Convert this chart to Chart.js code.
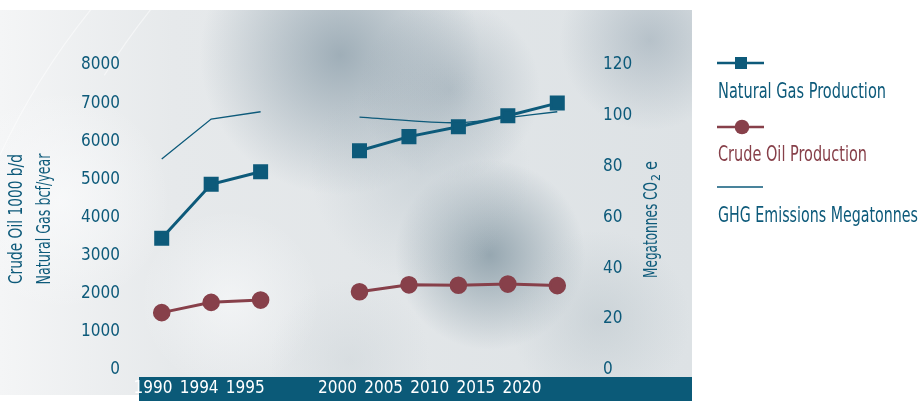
<!DOCTYPE html>
<html lang="en">
<head>
    <meta charset="UTF-8">
    <title>Gas, oil and GHG</title>
    <script src="https://cdn.jsdelivr.net/npm/chart.js@4.4.1/dist/chart.umd.min.js"></script>
    <style>
        body { margin: 0; background: #fff; }
        #wrap { width: 922px; height: 401px; position: relative; }
    </style>
</head>
<body>
    <div id="wrap">
        <canvas id="chart"></canvas>
    </div>

    <script>
        // data (blank slot between 1995 and 2000)
        const years = ['1990', '1994', '1995', '', '2000', '2005', '2010', '2015', '2020'];
        const gasProduction = [3450, 4870, 5200, null, 5750, 6120, 6380, 6670, 7000];
        const oilProduction = [1500, 1770, 1830, null, 2050, 2230, 2220, 2250, 2210];
        const ghgEmissions = [83, 98.7, 101.6, null, 99.5, 98.1, 97.3, 99.3, 101.6];
        const leftTicks = [0, 1000, 2000, 3000, 4000, 5000, 6000, 7000, 8000];
        const rightTicks = [0, 20, 40, 60, 80, 100, 120];

        const BLUE = '#0d5a7a';
        const RED = '#87404a';
        const FONT = '"DejaVu Sans Condensed", "Liberation Sans Narrow", sans-serif';

        // first stretch drawn straight, the later one smoothed like the original
        const ghgEarly = ghgEmissions.map((v, i) => (i < 3 ? v : null));
        const ghgLate = ghgEmissions.map((v, i) => (i > 3 ? v : null));

        const background = {
            id: 'background',
            beforeDraw(chart) {
                const ctx = chart.ctx;
                ctx.save();
                ctx.fillStyle = '#fff';
                ctx.fillRect(0, 0, chart.width, chart.height);
                // cloudy panel
                ctx.beginPath();
                ctx.rect(0, 10, 692, 385);
                ctx.clip();
                let g = ctx.createLinearGradient(0, 0, 692, 0);
                g.addColorStop(0, '#f4f5f6');
                g.addColorStop(0.25, '#e6e9eb');
                g.addColorStop(1, '#dde2e5');
                ctx.fillStyle = g;
                ctx.fillRect(0, 10, 692, 385);
                const blobs = [
                    [340, 55, 140, 'rgba(130,150,163,0.7)'],
                    [450, 90, 90, 'rgba(140,158,170,0.5)'],
                    [650, 40, 90, 'rgba(150,166,178,0.55)'],
                    [490, 255, 95, 'rgba(125,146,158,0.75)'],
                    [420, 170, 110, 'rgba(175,188,196,0.4)'],
                    [600, 320, 90, 'rgba(185,196,202,0.5)'],
                    [230, 300, 90, 'rgba(250,251,252,0.6)'],
                    [60, 200, 110, 'rgba(250,251,252,0.7)'],
                    [350, 360, 80, 'rgba(200,208,213,0.4)']
                ];
                blobs.forEach(([x, y, r, c]) => {
                    const rg = ctx.createRadialGradient(x, y, 0, x, y, r);
                    rg.addColorStop(0, c);
                    rg.addColorStop(1, c.replace(/[\d.]+\)$/, '0)'));
                    ctx.fillStyle = rg;
                    ctx.fillRect(x - r, y - r, 2 * r, 2 * r);
                });
                // faint globe arcs on the left
                ctx.strokeStyle = 'rgba(255,255,255,0.5)';
                ctx.lineWidth = 1.2;
                ctx.beginPath();
                ctx.arc(650, 460, 718, 3.50, 3.82);
                ctx.stroke();
                ctx.beginPath();
                ctx.arc(720, 460, 726, 3.70, 3.82);
                ctx.stroke();
                ctx.restore();
                // dark band for the year labels
                ctx.fillStyle = '#0b5a78';
                ctx.fillRect(139, 377, 553, 24);
            },
            afterDraw(chart) {
                const ctx = chart.ctx;
                ctx.save();
                // axis titles
                ctx.fillStyle = BLUE;
                ctx.textAlign = 'center';
                ctx.textBaseline = 'middle';
                ctx.font = '19px ' + FONT;
                ctx.translate(17, 219);
                ctx.rotate(-Math.PI / 2);
                ctx.fillText('Crude Oil 1000 b/d', 0, 0, 130);
                ctx.fillText('Natural Gas bcf/year', 0, 28, 131);
                ctx.restore();

                ctx.save();
                ctx.fillStyle = BLUE;
                ctx.textBaseline = 'middle';
                ctx.font = '19px ' + FONT;
                ctx.translate(652, 278);
                ctx.rotate(-Math.PI / 2);
                ctx.textAlign = 'left';
                const main = 'Megatonnes CO';
                ctx.fillText(main, 0, 0, 96);
                let w = Math.min(ctx.measureText(main).width, 96);
                ctx.font = '13px ' + FONT;
                ctx.fillText('2', w + 1, 5, 7);
                ctx.font = '19px ' + FONT;
                ctx.fillText('e', w + 12, 0, 9);
                ctx.restore();

                // legend
                ctx.save();
                ctx.lineCap = 'butt';
                ctx.strokeStyle = BLUE;
                ctx.lineWidth = 2.5;
                ctx.beginPath(); ctx.moveTo(717, 63); ctx.lineTo(764, 63); ctx.stroke();
                ctx.fillStyle = BLUE;
                ctx.fillRect(735, 57, 12, 12);
                ctx.strokeStyle = RED;
                ctx.beginPath(); ctx.moveTo(717, 127); ctx.lineTo(764, 127); ctx.stroke();
                ctx.fillStyle = RED;
                ctx.beginPath(); ctx.arc(742, 127, 7.3, 0, Math.PI * 2); ctx.fill();
                ctx.strokeStyle = BLUE;
                ctx.lineWidth = 1.3;
                ctx.beginPath(); ctx.moveTo(717, 187); ctx.lineTo(763, 187); ctx.stroke();

                ctx.font = '22px ' + FONT;
                ctx.textAlign = 'left';
                ctx.textBaseline = 'alphabetic';
                ctx.fillStyle = BLUE;
                ctx.fillText('Natural Gas Production', 718, 98, 168);
                ctx.fillStyle = RED;
                ctx.fillText('Crude Oil Production', 718, 161, 149);
                ctx.fillStyle = BLUE;
                ctx.fillText('GHG Emissions Megatonnes', 718, 222, 200);
                ctx.restore();
            }
        };

        const tickFont = { family: FONT, size: 17 };

        new Chart(document.getElementById('chart'), {
            type: 'line',
            data: {
                labels: years,
                datasets: [
                    {
                        label: 'Natural Gas Production',
                        data: gasProduction,
                        yAxisID: 'y',
                        borderColor: BLUE,
                        backgroundColor: BLUE,
                        borderWidth: 3,
                        pointStyle: 'rect',
                        pointRadius: 8.5,
                        tension: 0
                    },
                    {
                        label: 'Crude Oil Production',
                        data: oilProduction,
                        yAxisID: 'y',
                        borderColor: RED,
                        backgroundColor: RED,
                        borderWidth: 3,
                        pointStyle: 'circle',
                        pointRadius: 7.3,
                        tension: 0
                    },
                    {
                        label: 'GHG Emissions Megatonnes',
                        data: ghgEarly,
                        yAxisID: 'y1',
                        borderColor: BLUE,
                        borderWidth: 1.3,
                        pointRadius: 0,
                        tension: 0
                    },
                    {
                        label: 'GHG Emissions Megatonnes (later)',
                        data: ghgLate,
                        yAxisID: 'y1',
                        borderColor: BLUE,
                        borderWidth: 1.3,
                        pointRadius: 0,
                        tension: 0.4
                    }
                ]
            },
            options: {
                responsive: true,
                maintainAspectRatio: false,
                animation: false,
                layout: { padding: { top: 65, left: 0, right: 0, bottom: 0 } },
                plugins: {
                    legend: { display: false },
                    tooltip: { enabled: false }
                },
                scales: {
                    x: {
                        display: false,
                        offset: true
                    },
                    xLab: {
                        type: 'linear',
                        position: 'bottom',
                        min: (137 - 153) / 46.125,
                        max: (582 - 153) / 46.125,
                        grid: { display: false, drawTicks: false },
                        border: { display: false },
                        afterBuildTicks: (scale) => {
                            scale.ticks = years.map((y, i) => ({ value: i }));
                        },
                        afterFit: (scale) => { scale.height = 31; },
                        ticks: {
                            color: '#ffffff',
                            font: tickFont,
                            padding: 9,
                            autoSkip: false,
                            maxRotation: 0,
                            callback: (v) => years[v]
                        }
                    },
                    y: {
                        position: 'left',
                        min: 0,
                        max: 8000,
                        grid: { display: false, drawTicks: false },
                        border: { display: false },
                        afterBuildTicks: (scale) => {
                            scale.ticks = leftTicks.map(v => ({ value: v }));
                        },
                        afterFit: (scale) => { scale.width = 137; },
                        ticks: { color: BLUE, font: tickFont, padding: 17, callback: (v) => String(v) }
                    },
                    y1: {
                        position: 'right',
                        min: 0,
                        max: 120,
                        grid: { display: false, drawTicks: false },
                        border: { display: false },
                        afterBuildTicks: (scale) => {
                            scale.ticks = rightTicks.map(v => ({ value: v }));
                        },
                        afterFit: (scale) => { scale.width = 340; },
                        ticks: { color: BLUE, font: tickFont, padding: 21, callback: (v) => String(v) }
                    }
                }
            },
            plugins: [background]
        });
    </script>
</body>
</html>
